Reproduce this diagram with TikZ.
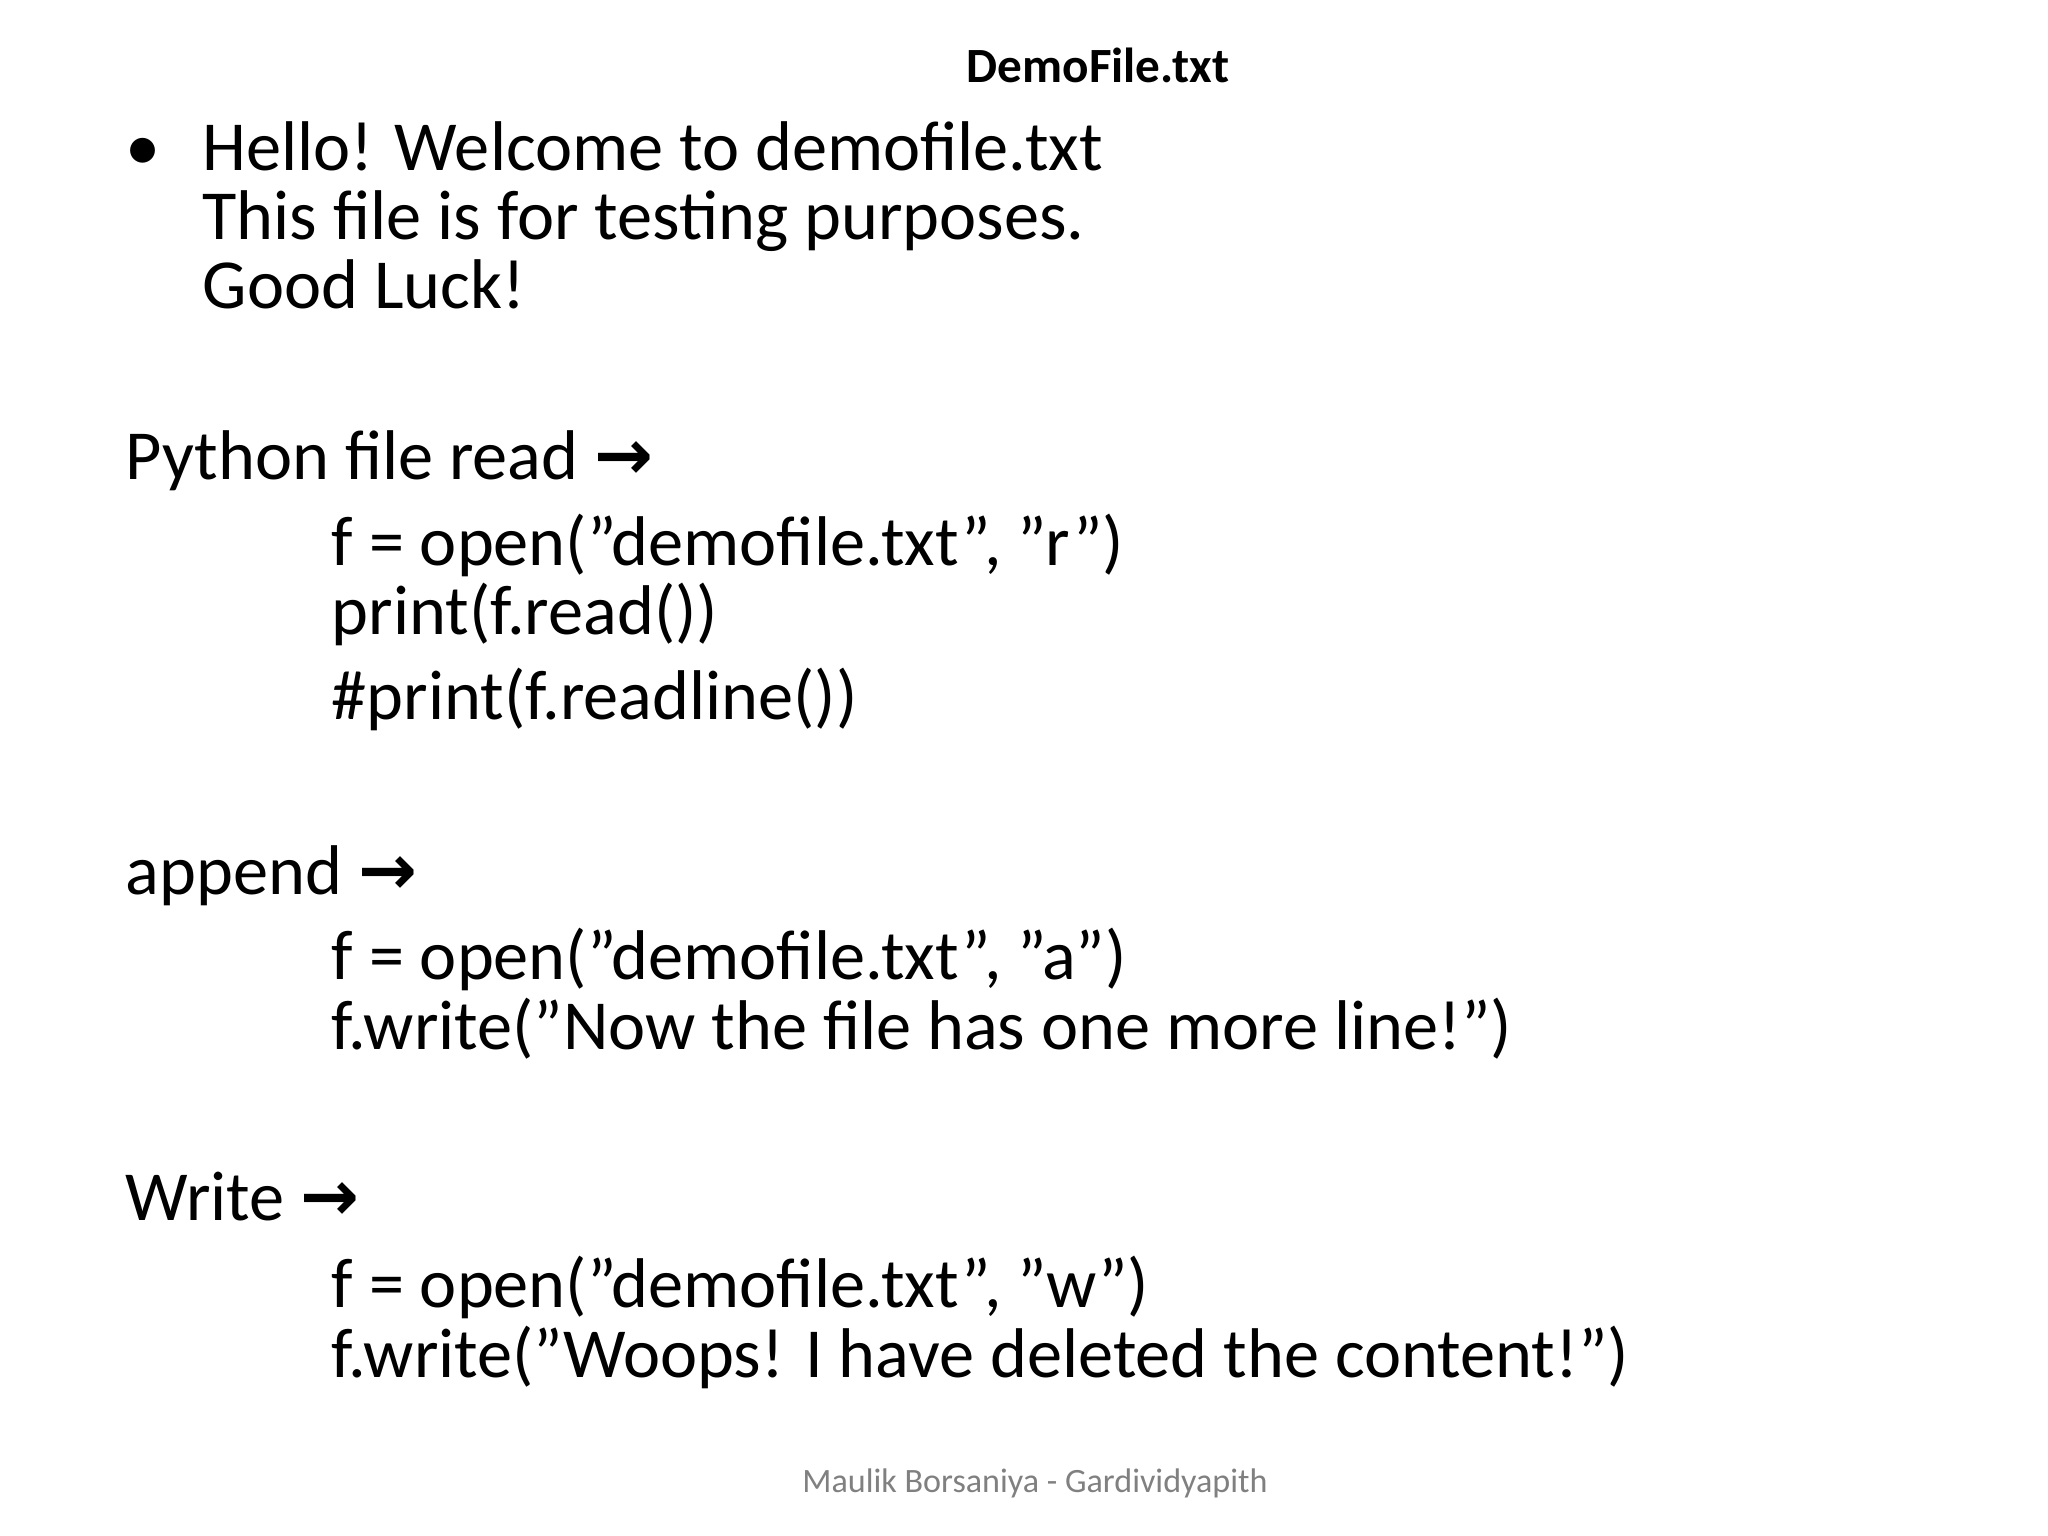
\documentclass[tikz,border=0pt]{standalone}
\usepackage{fontspec}
\setmainfont{Carlito}
\newfontfamily\arr{DejaVu Sans}
\begin{document}
\begin{tikzpicture}[x=0.01cm,y=-0.01cm,
  txt/.style={anchor=base west,inner sep=0pt,font=\fontsize{20}{24}\selectfont}]
\useasboundingbox (0,0) rectangle (2048,1536);
\node[anchor=base,inner sep=0pt,font=\fontsize{14}{16}\selectfont\bfseries] (title) at (1098,82) {DemoFile.txt};
\node[txt] (bul) at (125,170) {•};
\node[txt] (l1) at (202,170) {Hello! Welcome to demofile.txt};
\node[txt] (l2) at (202,239) {This file is for testing purposes.};
\node[txt] (l3) at (202,308) {Good Luck!};
\node[txt] (h1) at (125,479) {Python file read {\arr\bfseries →}};
\node[txt] (c1) at (331,565) {f = open("demofile.txt", "r")};
\node[txt] (c2) at (331,634) {print(f.read())};
\node[txt] (c3) at (331,719) {\#print(f.readline())};
\node[txt] (h2) at (125,894) {append {\arr\bfseries →}};
\node[txt] (c4) at (331,979) {f = open("demofile.txt", "a")};
\node[txt] (c5) at (331,1049) {f.write("Now the file has one more line!")};
\node[txt] (h3) at (125,1220) {Write {\arr\bfseries →}};
\node[txt] (c6) at (331,1307) {f = open("demofile.txt", "w")};
\node[txt] (c7) at (331,1377) {f.write("Woops! I have deleted the content!")};
\node[anchor=base,inner sep=0pt,text=gray,font=\fontsize{9.7}{11}\selectfont] (foot) at (1035,1492) {Maulik Borsaniya - Gardividyapith};
\end{tikzpicture}
\end{document}
